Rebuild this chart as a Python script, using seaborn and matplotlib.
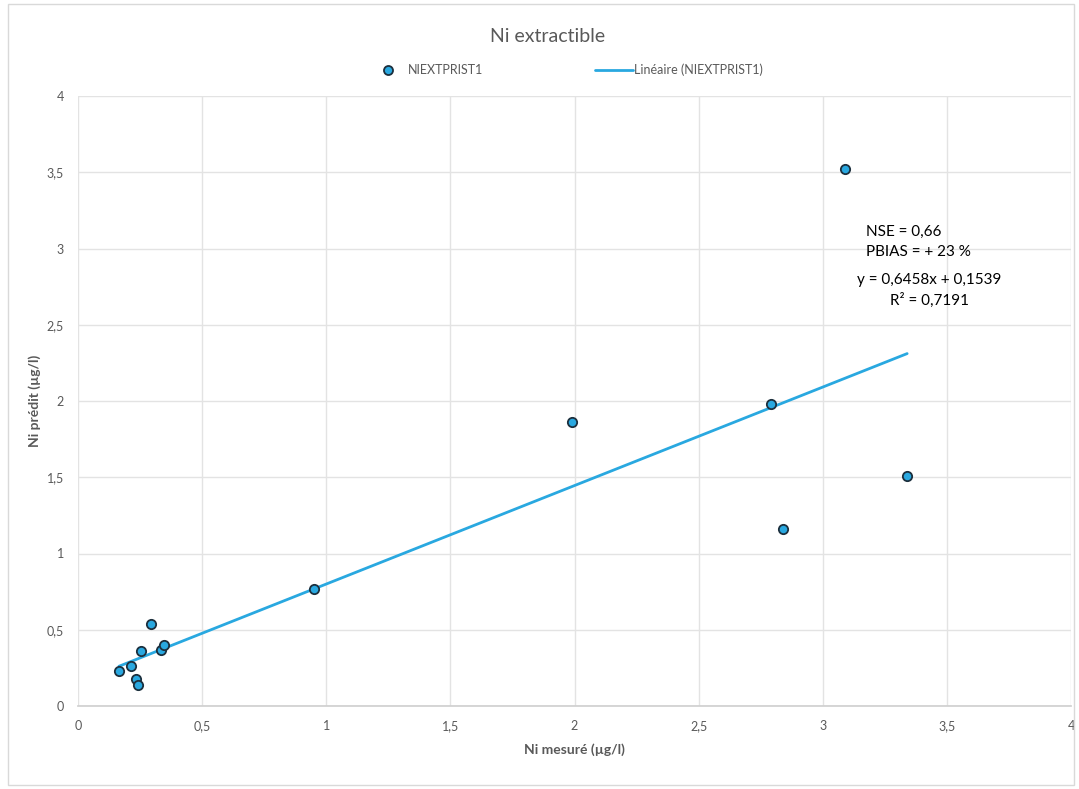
import numpy as np
import pandas as pd
import matplotlib
matplotlib.use("Agg")
import matplotlib.pyplot as plt
from matplotlib.lines import Line2D
from matplotlib.patches import Rectangle
import seaborn as sns

# Measured vs predicted extractable nickel (µg/l)
ni_mesure = [0.165, 0.215, 0.232, 0.243, 0.252, 0.295, 0.334, 0.347, 0.95, 1.99, 2.79, 2.84, 3.09, 3.34]
ni_predit = [0.23, 0.26, 0.18, 0.14, 0.36, 0.54, 0.37, 0.40, 0.77, 1.86, 1.98, 1.16, 3.52, 1.51]

# Linear trend and fit statistics
pente = 0.6458
ordonnee = 0.1539
r2 = 0.7191
nse = 0.66
pbias = 23

ticks = [0, 0.5, 1, 1.5, 2, 2.5, 3, 3.5, 4]
tick_labels = ["0", "0,5", "1", "1,5", "2", "2,5", "3", "3,5", "4"]

df = pd.DataFrame({"mesure": ni_mesure, "predit": ni_predit})

sns.set_theme(style="white")
plt.rcParams["font.family"] = ["Lato", "DejaVu Sans"]

grey = "#595959"
blue = "#29a8e0"

fig = plt.figure(figsize=(10.79, 7.89), dpi=100)
ax = fig.add_axes([78 / 1079, 1 - 706 / 789, (1071 - 78) / 1079, (706 - 96) / 789])

# chart-area border
fig.patches.append(Rectangle((8 / 1079, 4 / 789), 1066 / 1079, 781 / 789,
                             transform=fig.transFigure, fill=False,
                             edgecolor="#d9d9d9", linewidth=1))

xs = np.array([min(ni_mesure), max(ni_mesure)])
ax.plot(xs, pente * xs + ordonnee, color=blue, linewidth=2, zorder=2)

sns.scatterplot(data=df, x="mesure", y="predit", ax=ax, s=45, color=blue,
                edgecolor="#1c2f3d", linewidth=1.3, zorder=3, legend=False)

ax.set_xlim(0, 4)
ax.set_ylim(0, 4)
ax.set_xticks(ticks)
ax.set_xticklabels(tick_labels)
ax.set_yticks(ticks)
ax.set_yticklabels(tick_labels)
ax.tick_params(axis="both", colors=grey, labelsize=9, length=0, pad=10)
ax.grid(True, color="#e3e3e3", linewidth=1)
ax.set_axisbelow(True)
for s in ax.spines.values():
    s.set_visible(False)
ax.spines["bottom"].set_visible(True)
ax.spines["bottom"].set_color("#d0d0d0")

ax.set_xlabel("Ni mesuré (µg/l)", fontsize=10, fontweight="bold", color=grey, labelpad=8)
ax.set_ylabel("Ni prédit (µg/l)", fontsize=10, fontweight="bold", color=grey, labelpad=4)

fig.text(548 / 1079, 1 - 36 / 789, "Ni extractible", ha="center", va="center",
         fontsize=14, color=grey)

handles = [
    Line2D([], [], marker="o", linestyle="none", markersize=6.5,
           markerfacecolor=blue, markeredgecolor="#1c2f3d", markeredgewidth=1.3),
    Line2D([], [], color=blue, linewidth=2),
]
fig.legend(handles, ["NIEXTPRIST1", "Linéaire (NIEXTPRIST1)"],
           loc="center", bbox_to_anchor=(566 / 1079, 1 - 70 / 789), ncol=2,
           frameon=False, fontsize=9, labelcolor=grey, handlelength=3,
           handletextpad=0.1, columnspacing=9.0)

ax.text(3.174, 3.108, f"NSE = {nse:.2f}".replace(".", ","), fontsize=11,
        color="black", ha="left", va="center")
ax.text(3.174, 2.977, f"PBIAS = + {pbias} %", fontsize=11,
        color="black", ha="left", va="center")
ax.text(3.428, 2.793, f"y = {pente:.4f}x + {ordonnee:.4f}".replace(".", ","),
        fontsize=11, color="black", ha="center", va="center")
ax.text(3.428, 2.662, f"R² = {r2:.4f}".replace(".", ","), fontsize=11,
        color="black", ha="center", va="center")

fig.savefig("out.png", dpi=100)
